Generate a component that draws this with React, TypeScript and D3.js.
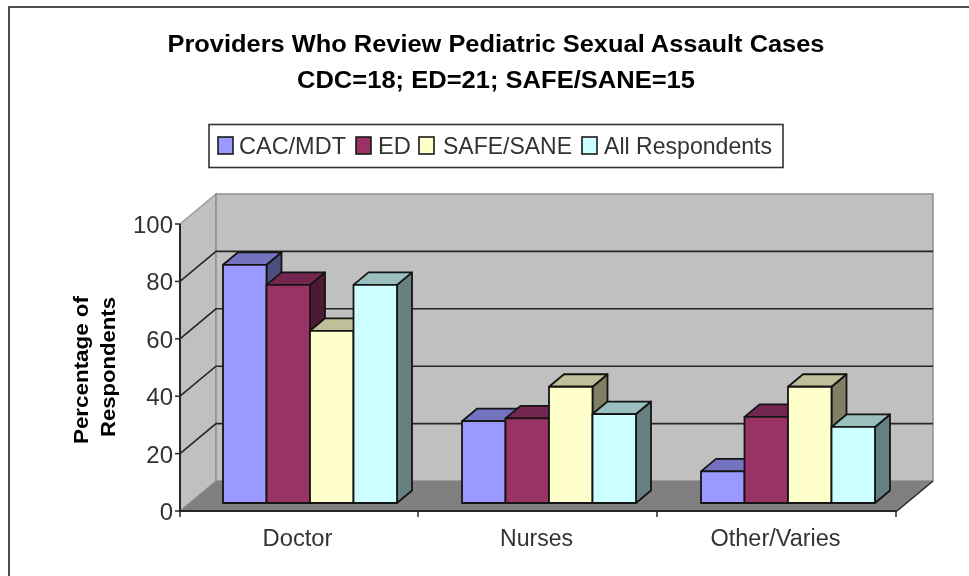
import React from "react";
import * as d3 from "d3";

const title1 = "Providers Who Review Pediatric Sexual Assault Cases";
const title2 = "CDC=18; ED=21; SAFE/SANE=15";
const categories = ["Doctor", "Nurses", "Other/Varies"];
const seriesNames = ["CAC/MDT", "ED", "SAFE/SANE", "All Respondents"];
const cacMdt = [83, 28.5, 11];
const ed = [76, 29.5, 30];
const safeSane = [60, 40.5, 40.5];
const allResp = [76, 31, 26.5];
const yTicks = [0, 20, 40, 60, 80, 100];
const yLabel = ["Percentage of", "Respondents"];

const values = [cacMdt, ed, safeSane, allResp];
const fills = ["#9999ff", "#993366", "#ffffcc", "#ccffff"];
const tops = ["#7373bf", "#732650", "#bfbf99", "#99bfbf"];
const sides = ["#4d4d80", "#4d1a33", "#808066", "#668080"];

const x0 = 180, x1 = 897, y0 = 511, y100 = 224;
const ddx = 36, ddy = -30;
const bdx = 15, bdy = -12.5;
const barOffX = 10.5, barOffY = -8;

const xBand = d3.scaleBand<string>().domain(categories).range([x0, x1]);
const y = d3.scaleLinear().domain([0, 100]).range([y0, y100]);
const inner = d3.scaleBand<string>().domain(seriesNames).range([0, 174]);
const pts = (a: number[][]) => a.map((p) => p.join(",")).join(" ");
const ink = "#262626";
const font = "'Liberation Sans', Arial, sans-serif";

const legendSwatchX = [218, 356, 419, 582];
const legendTextX = [239, 378, 443, 604];
const legendTextW = [107, 33, 129, 168];
const catTextW = [70, 73, 130];

export default function App() {
  const bars: React.ReactNode[] = [];
  categories.forEach((c, ci) => {
    seriesNames.forEach((s, si) => {
      const v = values[si][ci];
      const left = (xBand(c) as number) + (xBand.bandwidth() - 174) / 2 + barOffX + (inner(s) as number);
      const w = inner.bandwidth();
      const bot = y(0) + barOffY;
      const top = y(v) + barOffY;
      bars.push(
        <g key={c + s} stroke="#141414" strokeWidth={1.8} strokeLinejoin="round">
          <polygon fill={sides[si]} points={pts([[left + w, top], [left + w + bdx, top + bdy], [left + w + bdx, bot + bdy], [left + w, bot]])} />
          <polygon fill={tops[si]} points={pts([[left, top], [left + bdx, top + bdy], [left + w + bdx, top + bdy], [left + w, top]])} />
          <rect x={left} y={top} width={w} height={bot - top} fill={fills[si]} />
        </g>
      );
    });
  });

  return (
    <svg width={969} height={576} style={{ position: "absolute", left: 0, top: 0, background: "#fff", filter: "blur(0.45px)" }} fontFamily={font}>
      <rect x={9} y={7} width={1000} height={700} fill="#fff" stroke="#222" strokeWidth={1.6} />
      <text x={496} y={52} textAnchor="middle" fontWeight="bold" fontSize={24} textLength={657} lengthAdjust="spacingAndGlyphs" fill="#000">{title1}</text>
      <text x={496} y={88} textAnchor="middle" fontWeight="bold" fontSize={24} textLength={398} lengthAdjust="spacingAndGlyphs" fill="#000">{title2}</text>

      <rect x={209} y={124.5} width={574} height={43} fill="#fff" stroke="#333" strokeWidth={1.6} />
      {seriesNames.map((s, i) => (
        <g key={s}>
          <rect x={legendSwatchX[i]} y={137} width={15} height={17} fill={fills[i]} stroke="#1a1a1a" strokeWidth={1.6} />
          <text x={legendTextX[i]} y={154} fontSize={24} textLength={legendTextW[i]} lengthAdjust="spacingAndGlyphs" fill="#333">{s}</text>
        </g>
      ))}

      {/* walls */}
      <polygon points={pts([[x0, y100], [x0 + ddx, y100 + ddy], [x0 + ddx, y0 + ddy], [x0, y0]])} fill="#c0c0c0" stroke="#9a9a9a" strokeWidth={1.5} />
      <rect x={x0 + ddx} y={y100 + ddy} width={x1 - x0} height={y0 - y100} fill="#c0c0c0" stroke="#8f8f8f" strokeWidth={1.5} />
      <polygon points={pts([[x0, y0], [x0 + ddx, y0 + ddy], [x1 + ddx, y0 + ddy], [x1, y0]])} fill="#808080" />
      {yTicks.slice(1, 5).map((t) => (
        <polyline key={t} stroke={ink} strokeWidth={1.6} fill="none" points={pts([[x0, y(t)], [x0 + ddx, y(t) + ddy], [x1 + ddx, y(t) + ddy]])} />
      ))}
      <polyline points={pts([[x1, y0], [x1 + ddx, y0 + ddy]])} stroke={ink} strokeWidth={1.5} fill="none" />

      {/* axes */}
      <line x1={x0} y1={y100} x2={x0} y2={y0} stroke={ink} strokeWidth={2} />
      <line x1={x0} y1={y0} x2={x1} y2={y0} stroke={ink} strokeWidth={2.2} />
      {yTicks.map((t) => (
        <g key={t}>
          <line x1={x0 - 5} x2={x0} y1={y(t)} y2={y(t)} stroke={ink} strokeWidth={1.5} />
          <text x={x0 - 7} y={y(t) + 9} textAnchor="end" fontSize={24} fill="#333">{t}</text>
        </g>
      ))}
      {[0, 1, 2, 3].map((i) => {
        const tx = x0 + i * xBand.step() - (i > 0 ? 1 : 0);
        return <line key={i} x1={tx} x2={tx} y1={y0} y2={y0 + 6} stroke={ink} strokeWidth={1.5} />;
      })}
      {categories.map((c, i) => (
        <text key={c} x={(xBand(c) as number) + xBand.bandwidth() / 2 - 2} y={546} textAnchor="middle" fontSize={23} textLength={catTextW[i]} lengthAdjust="spacingAndGlyphs" fill="#333">{c}</text>
      ))}

      {bars}

      <text transform="translate(88,370) rotate(-90)" textAnchor="middle" fontSize={21} fontWeight="bold" textLength={148} lengthAdjust="spacingAndGlyphs" fill="#000">{yLabel[0]}</text>
      <text transform="translate(115,367) rotate(-90)" textAnchor="middle" fontSize={21} fontWeight="bold" textLength={140} lengthAdjust="spacingAndGlyphs" fill="#000">{yLabel[1]}</text>
    </svg>
  );
}
